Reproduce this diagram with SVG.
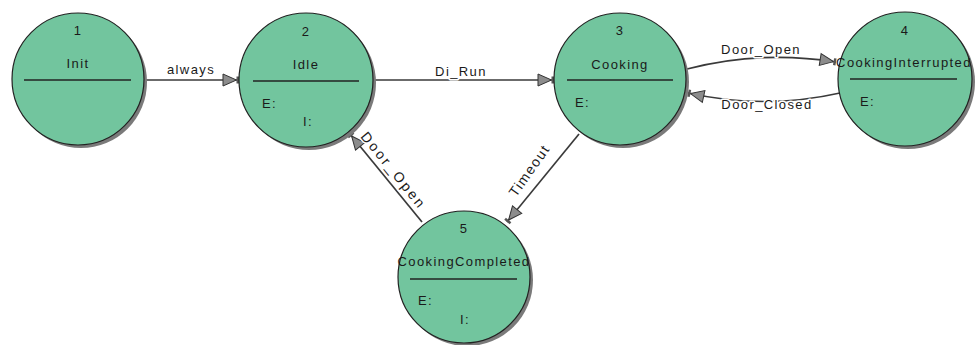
<svg xmlns="http://www.w3.org/2000/svg" width="980" height="345" viewBox="0 0 980 345">
<defs>
<marker id="arr" markerUnits="userSpaceOnUse" markerWidth="20" markerHeight="16" viewBox="0 -8 20 16" refX="17" refY="0" orient="auto">
<path d="M1,-6 L14.5,0 L1,6 Z" fill="#8c8c8c" stroke="#333" stroke-width="1"/>
<rect x="14.5" y="-3.5" width="2.5" height="7" fill="#555"/>
</marker>
</defs>
<style>
text{font-family:"Liberation Sans",Arial,sans-serif;font-size:13px;fill:#1a1a1a;letter-spacing:1.4px}
.shadow{fill:#7a7a7a}
.st{fill:#72c59e;stroke:#222;stroke-width:1.2}
.sep{stroke:#222;stroke-width:1.3}
.c{text-anchor:middle}
.conn{fill:none;stroke:#3a3a3a;stroke-width:1.7}
.lbl{text-anchor:middle;paint-order:stroke;stroke:#fff;stroke-width:3px;stroke-linejoin:round}
</style>
<rect width="980" height="345" fill="#fff"/>
<g id="connectors">
<line class="conn" x1="145" y1="80" x2="239" y2="80" marker-end="url(#arr)"/>
<line class="conn" x1="374" y1="80" x2="554" y2="80" marker-end="url(#arr)"/>
<path class="conn" d="M687,69 Q760,50 836,62" marker-end="url(#arr)"/>
<path class="conn" d="M840,93 Q765,110 688,93" marker-end="url(#arr)"/>
<line class="conn" x1="579" y1="134" x2="507" y2="222" marker-end="url(#arr)"/>
<line class="conn" x1="422" y1="222" x2="350" y2="134" marker-end="url(#arr)"/>
<text class="lbl" x="191" y="74">always</text>
<text class="lbl" x="461" y="76">Di_Run</text>
<text class="lbl" x="761" y="54">Door_Open</text>
<text class="lbl" x="767" y="109">Door_Closed</text>
<text class="lbl" transform="translate(530,171) rotate(-55)" y="4" style="font-size:14px">Timeout</text>
<text class="lbl" transform="translate(393,171) rotate(51)" y="4" style="font-size:14px;letter-spacing:2.5px">Door_Open</text>
</g>
<g id="node1">
<circle class="shadow" cx="81" cy="82" r="66"/>
<circle class="st" cx="78" cy="79" r="66"/>
<text class="c" x="78" y="35">1</text>
<text class="c" x="78" y="68">Init</text>
<line class="sep" x1="24" y1="80" x2="131" y2="80"/>
</g>
<g id="node2">
<circle class="shadow" cx="309" cy="83" r="67"/>
<circle class="st" cx="306" cy="80" r="67"/>
<text class="c" x="306" y="36">2</text>
<text class="c" x="306" y="69">Idle</text>
<line class="sep" x1="253" y1="81" x2="359" y2="81"/>
<text x="262" y="108">E:</text>
<text x="303" y="126">I:</text>
</g>
<g id="node3">
<circle class="shadow" cx="623" cy="82" r="66"/>
<circle class="st" cx="620" cy="79" r="66"/>
<text class="c" x="620" y="35">3</text>
<text class="c" x="620" y="69">Cooking</text>
<line class="sep" x1="567" y1="80" x2="673" y2="80"/>
<text x="575" y="107">E:</text>
</g>
<g id="node4">
<circle class="shadow" cx="908" cy="82" r="67"/>
<circle class="st" cx="905" cy="79" r="67"/>
<text class="c" x="905" y="35">4</text>
<text class="c" x="904" y="67">CookingInterrupted</text>
<line class="sep" x1="850" y1="79" x2="957" y2="79"/>
<text x="860" y="106">E:</text>
</g>
<g id="node5">
<circle class="shadow" cx="467" cy="280" r="66"/>
<circle class="st" cx="464" cy="277" r="66"/>
<text class="c" x="464" y="233">5</text>
<text class="c" x="464" y="266">CookingCompleted</text>
<line class="sep" x1="410" y1="279" x2="517" y2="279"/>
<text x="418" y="305">E:</text>
<text x="460" y="324">I:</text>
</g>
</svg>
